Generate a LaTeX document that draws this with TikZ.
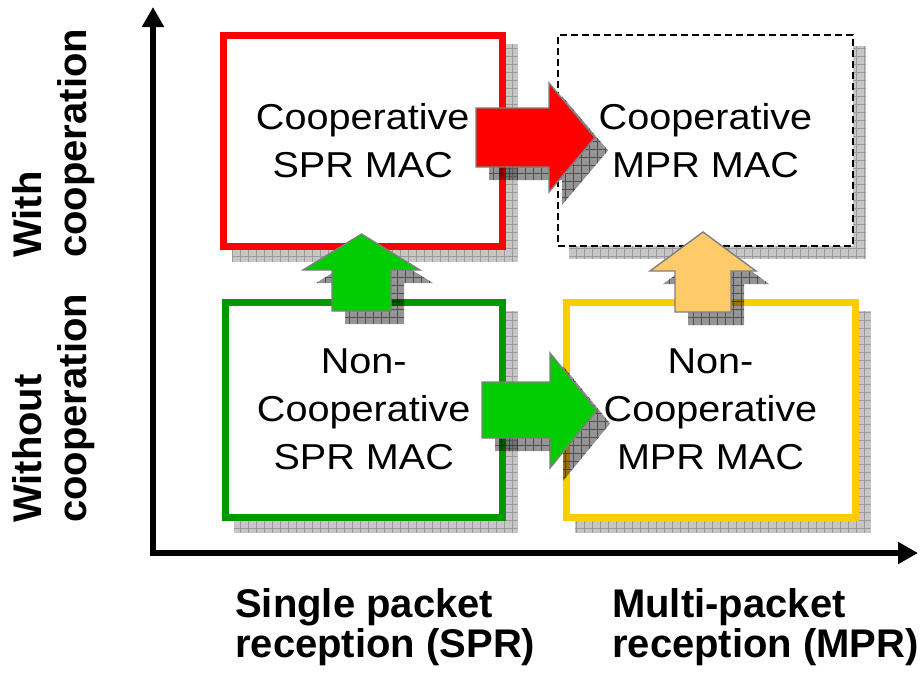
\documentclass[tikz,border=0pt]{standalone}
\usepackage{fontspec}
\setmainfont{Liberation Sans}
\newfontfamily\boxfont[FakeStretch=1.1]{Liberation Sans}
\usetikzlibrary{arrows.meta,backgrounds}

\definecolor{coopred}{HTML}{FF0000}
\definecolor{boxgreen}{HTML}{009900}
\definecolor{arrowgreen}{HTML}{00CC00}
\definecolor{boxyellow}{HTML}{FFCC00}
\definecolor{arroworange}{HTML}{FFCA6A}
\definecolor{shadowlight}{HTML}{C6C6C6}
\definecolor{gridgray}{HTML}{9A9A9A}
\definecolor{rimgray}{HTML}{7F7F7F}

\begin{document}
\begin{tikzpicture}[x=1pt,y=-1pt,
  macbox/.style={rectangle, fill=white, line width=7pt, align=center, inner sep=0pt,
    font=\boxfont\fontsize{36}{48}\selectfont},
  boxshadow/.style={fill=shadowlight,
    path picture={\draw[gridgray, line width=0.7pt]
      (path picture bounding box.south west) grid[step=8pt] (path picture bounding box.north east);}},
  arrowshadow/.style={fill=black, fill opacity=0.42,
    path picture={\draw[black, draw opacity=0.45, line width=0.7pt]
      (path picture bounding box.south west) grid[step=8pt] (path picture bounding box.north east);}},
  blockarrow/.style={draw=rimgray, line width=1.4pt, line join=miter},
  axis/.style={line width=6pt, -{Triangle[length=20pt,width=21pt]}},
  axislabel/.style={font=\bfseries\fontsize{40}{40}\selectfont, align=left, inner sep=0pt},
  sidelabel/.style={font=\bfseries\fontsize{40}{45}\selectfont, align=left, inner sep=0pt, rotate=90}
]
\useasboundingbox (0,0) rectangle (921,675);

% axes
\coordinate (origin) at (153,553);
\coordinate (ytip) at (153,7);
\coordinate (xtip) at (918,553);
\coordinate (xstart) at (150,553);
\draw[axis] (origin) -- (ytip);
\draw[axis] (xstart) -- (xtip);

% the four MAC classes
\node[macbox, draw=coopred, minimum width=278.5pt, minimum height=211pt]
  (coopspr) at (362.75,141) {Cooperative\\SPR MAC};
\node[macbox, draw=black, line width=1.5pt, dashed, dash pattern=on 7pt off 4pt,
  minimum width=295pt, minimum height=211pt]
  (coopmpr) at (705.5,140.5) {Cooperative\\MPR MAC};
\node[macbox, draw=boxgreen, minimum width=276.5pt, minimum height=215.5pt]
  (ncspr) at (363.75,409.75) {Non-\\Cooperative\\SPR MAC};
\node[macbox, draw=boxyellow, minimum width=289pt, minimum height=215.5pt]
  (ncmpr) at (710.5,409.75) {Non-\\Cooperative\\MPR MAC};

% drop shadows of the boxes
\begin{scope}[on background layer]
  \foreach \n in {coopspr,coopmpr,ncspr,ncmpr}
    \path[boxshadow] ([shift={(12,12)}]\n.south west) rectangle ([shift={(12,12)}]\n.north east);
\end{scope}

% block arrow: towards cooperation (SPR)
\begin{scope}[shift={(13,13)}]
  \path[arrowshadow] (332,311) -- (332,270) -- (303,270) -- (361.5,234) -- (420,270) -- (391,270) -- (391,311) -- cycle;
\end{scope}
\path[blockarrow, fill=arrowgreen] (332,311) -- (332,270) -- (303,270) -- (361.5,234) -- (420,270) -- (391,270) -- (391,311) -- cycle;

% block arrow: towards cooperation (MPR)
\begin{scope}[shift={(13,13)}]
  \path[arrowshadow] (675,312) -- (675,271) -- (650,271) -- (703,232) -- (756,271) -- (731,271) -- (731,312) -- cycle;
\end{scope}
\path[blockarrow, fill=arroworange] (675,312) -- (675,271) -- (650,271) -- (703,232) -- (756,271) -- (731,271) -- (731,312) -- cycle;

% block arrow: SPR to MPR (cooperative)
\begin{scope}[shift={(13,13)}]
  \path[arrowshadow] (476,108) -- (549,108) -- (549,83) -- (595,137.5) -- (549,192) -- (549,167) -- (476,167) -- cycle;
\end{scope}
\path[blockarrow, fill=coopred] (476,108) -- (549,108) -- (549,83) -- (595,137.5) -- (549,192) -- (549,167) -- (476,167) -- cycle;

% block arrow: SPR to MPR (non-cooperative)
\begin{scope}[shift={(13,13)}]
  \path[arrowshadow] (482,382) -- (550,382) -- (550,353) -- (597,410.5) -- (550,468) -- (550,438) -- (482,438) -- cycle;
\end{scope}
\path[blockarrow, fill=arrowgreen] (482,382) -- (550,382) -- (550,353) -- (597,410.5) -- (550,468) -- (550,438) -- (482,438) -- cycle;

% axis labels
\node[axislabel, anchor=north west] (spr) at (235,588) {Single packet\\reception (SPR)};
\node[axislabel, anchor=north west] (mpr) at (612,588) {Multi-packet\\reception (MPR)};
\node[sidelabel, anchor=north west] (withc) at (12,258) {With\\cooperation};
\node[sidelabel, anchor=north west] (withoutc) at (12,523) {Without\\cooperation};
\end{tikzpicture}
\end{document}
